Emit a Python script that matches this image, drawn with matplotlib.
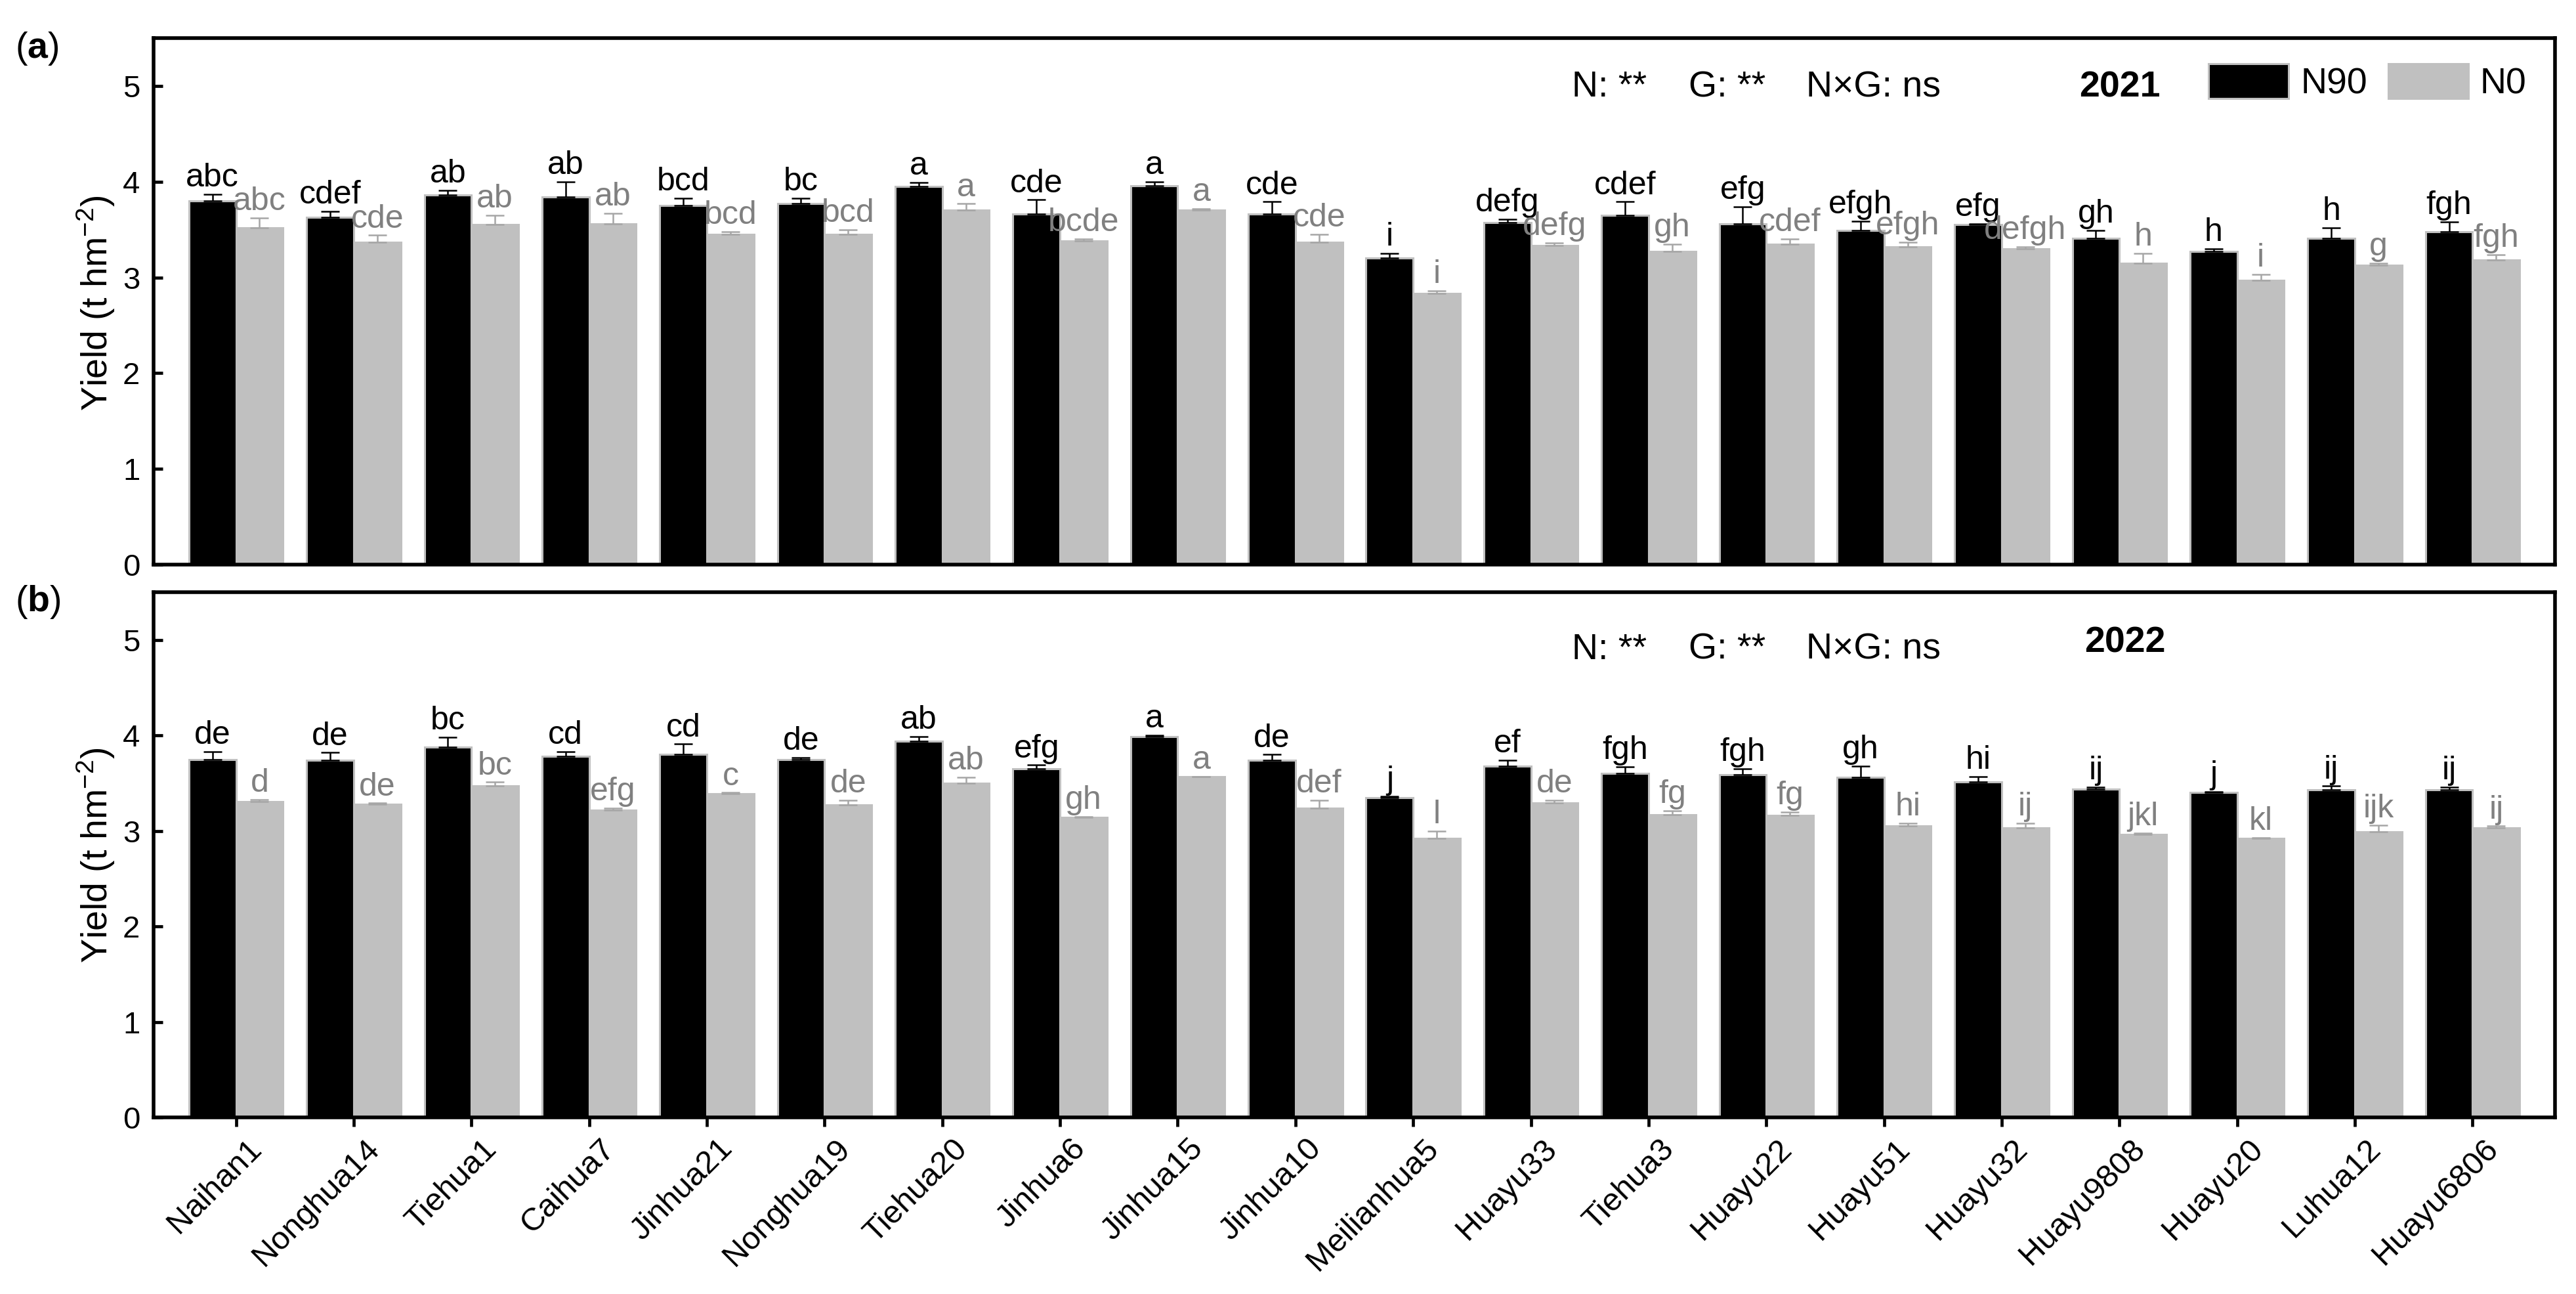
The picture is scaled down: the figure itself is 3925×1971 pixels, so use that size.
import matplotlib
matplotlib.use('Agg')
import matplotlib.pyplot as plt
import numpy as np
from matplotlib.transforms import ScaledTranslation

varieties = ['Naihan1', 'Nonghua14', 'Tiehua1', 'Caihua7', 'Jinhua21', 'Nonghua19',
             'Tiehua20', 'Jinhua6', 'Jinhua15', 'Jinhua10', 'Meilianhua5', 'Huayu33',
             'Tiehua3', 'Huayu22', 'Huayu51', 'Huayu32', 'Huayu9808', 'Huayu20',
             'Luhua12', 'Huayu6806']

# 2021
n90_2021 = [3.80, 3.63, 3.86, 3.84, 3.75, 3.77, 3.95, 3.66, 3.96, 3.66,
            3.20, 3.57, 3.65, 3.56, 3.49, 3.55, 3.41, 3.27, 3.41, 3.48]
e90_2021 = [0.07, 0.06, 0.05, 0.16, 0.08, 0.06, 0.04, 0.15, 0.04, 0.13,
            0.05, 0.04, 0.14, 0.18, 0.10, 0.01, 0.08, 0.03, 0.11, 0.10]
n0_2021 = [3.52, 3.37, 3.55, 3.56, 3.45, 3.45, 3.70, 3.38, 3.70, 3.37,
           2.83, 3.33, 3.27, 3.35, 3.32, 3.30, 3.15, 2.97, 3.13, 3.18]
e0_2021 = [0.10, 0.07, 0.10, 0.11, 0.03, 0.05, 0.07, 0.02, 0.02, 0.08,
           0.03, 0.03, 0.08, 0.05, 0.05, 0.02, 0.10, 0.06, 0.02, 0.06]
l90_2021 = ['abc', 'cdef', 'ab', 'ab', 'bcd', 'bc', 'a', 'cde', 'a', 'cde',
            'i', 'defg', 'cdef', 'efg', 'efgh', 'efg', 'gh', 'h', 'h', 'fgh']
l0_2021 = ['abc', 'cde', 'ab', 'ab', 'bcd', 'bcd', 'a', 'bcde', 'a', 'cde',
           'i', 'defg', 'gh', 'cdef', 'efgh', 'defgh', 'h', 'i', 'g', 'fgh']

# 2022
n90_2022 = [3.75, 3.74, 3.88, 3.78, 3.80, 3.75, 3.94, 3.65, 3.99, 3.74,
            3.35, 3.68, 3.60, 3.59, 3.56, 3.51, 3.44, 3.40, 3.43, 3.43]
e90_2022 = [0.08, 0.08, 0.10, 0.05, 0.11, 0.02, 0.05, 0.04, 0.01, 0.06,
            0.01, 0.06, 0.07, 0.06, 0.12, 0.06, 0.02, 0.01, 0.04, 0.03]
n0_2022 = [3.31, 3.28, 3.47, 3.22, 3.39, 3.27, 3.50, 3.14, 3.57, 3.24,
           2.92, 3.29, 3.17, 3.16, 3.05, 3.03, 2.96, 2.92, 2.99, 3.03]
e0_2022 = [0.02, 0.01, 0.04, 0.02, 0.01, 0.05, 0.06, 0.01, 0.00, 0.08,
           0.08, 0.03, 0.04, 0.04, 0.03, 0.05, 0.02, 0.01, 0.07, 0.02]
l90_2022 = ['de', 'de', 'bc', 'cd', 'cd', 'de', 'ab', 'efg', 'a', 'de',
            'j', 'ef', 'fgh', 'fgh', 'gh', 'hi', 'ij', 'j', 'ij', 'ij']
l0_2022 = ['d', 'de', 'bc', 'efg', 'c', 'de', 'ab', 'gh', 'a', 'def',
           'l', 'de', 'fg', 'fg', 'hi', 'ij', 'jkl', 'kl', 'ijk', 'ij']

yticks = [0, 1, 2, 3, 4, 5]
stats = ['N: **', 'G: **', 'N×G: ns']

plt.rcParams['font.family'] = ['Liberation Sans', 'DejaVu Sans']
plt.rcParams['mathtext.fontset'] = 'custom'
plt.rcParams['mathtext.rm'] = 'Liberation Sans'
plt.rcParams['mathtext.it'] = 'Liberation Sans:italic'
plt.rcParams['mathtext.bf'] = 'Liberation Sans:bold'
plt.rcParams['mathtext.default'] = 'regular'

FW, FH = 3925, 1971
fig = plt.figure(figsize=(FW / 100, FH / 100), dpi=100)
L = 234 / FW
W = 3659 / FW
axA = fig.add_axes([L, 1 - 860 / FH, W, 802 / FH])
axB = fig.add_axes([L, 1 - 1702 / FH, W, 800 / FH])

GRAY = '#c0c0c0'
LETTER_GRAY = '#808080'
ERR_GRAY = '#a6a6a6'


def panel(ax, n90, e90, n0, e0, l90, l0, year, stat_y, year_y, legend, xlabels):
    x = np.arange(len(varieties))
    w = 0.4
    z = np.zeros(len(x))
    ax.bar(x - w / 2, n90, w, color='black', edgecolor=GRAY, linewidth=2.2,
           label='N90', zorder=2)
    ax.bar(x + w / 2, n0, w, color=GRAY, edgecolor=GRAY, linewidth=2.2,
           label='N0', zorder=2)
    ax.errorbar(x - w / 2, n90, yerr=[z, e90], fmt='none', ecolor='black',
                elinewidth=1.8, capsize=10, capthick=1.8, zorder=3)
    ax.errorbar(x + w / 2, n0, yerr=[z, e0], fmt='none', ecolor=ERR_GRAY,
                elinewidth=1.8, capsize=10, capthick=1.8, zorder=3)
    for xi, v, e, t in zip(x - w / 2, n90, e90, l90):
        ax.text(xi, v + e + 0.012, t, ha='center', va='bottom', fontsize=36,
                color='black', zorder=4)
    for xi, v, e, t in zip(x + w / 2, n0, e0, l0):
        ax.text(xi, v + e + 0.012, t, ha='center', va='bottom', fontsize=36,
                color=LETTER_GRAY, zorder=4)

    ax.set_xlim(-0.7, len(x) - 0.3)
    ax.set_ylim(0, 5.5)
    ax.set_yticks(yticks)
    ax.tick_params(axis='y', direction='in', length=10, width=3.4,
                   labelsize=34, pad=15, right=False)
    for s in ax.spines.values():
        s.set_linewidth(4)

    xs = [0.5906, 0.6392, 0.6882]
    for xx, s in zip(xs, stats):
        ax.text(xx, stat_y, s, transform=ax.transAxes, fontsize=40,
                ha='left', va='baseline')
    ax.text(year_y[0], year_y[1], year, transform=ax.transAxes, fontsize=40,
            fontweight='bold', ha='center', va='baseline')

    if legend:
        ax.legend(loc='upper left', bbox_to_anchor=(0.8557, 0.951), ncol=2,
                  frameon=False, fontsize=40, handlelength=2.2,
                  handleheight=1.08, handletextpad=0.32, columnspacing=0.58,
                  borderpad=0, borderaxespad=0)

    if xlabels:
        ax.set_xticks(x)
        ax.set_xticklabels(varieties, rotation=45, ha='right',
                           rotation_mode='anchor')
        ax.tick_params(axis='x', direction='out', length=10, width=3.4,
                       labelsize=35, pad=8)
        off = ScaledTranslation(16 / 100, 0, fig.dpi_scale_trans)
        for lab in ax.get_xticklabels():
            lab.set_transform(lab.get_transform() + off)
    else:
        ax.set_xticks([])


panel(axA, n90_2021, e90_2021, n0_2021, e0_2021, l90_2021, l0_2021, '2021',
      0.889, (0.8188, 0.889), True, False)
panel(axB, n90_2022, e90_2022, n0_2022, e0_2022, l90_2022, l0_2022, '2022',
      0.8725, (0.8210, 0.885), False, True)

ylab = r'Yield (t hm$^{-2}$)'
fig.text(146 / FW, 1 - 462 / FH, ylab, rotation=90, ha='center', va='center',
         fontsize=40)
fig.text(146 / FW, 1 - 1303 / FH, ylab, rotation=90, ha='center', va='center',
         fontsize=40)

fig.text(23 / FW, 1 - 74 / FH, r'($\mathbf{a}$)', ha='left', va='center',
         fontsize=40)
fig.text(23 / FW, 1 - 917 / FH, r'($\mathbf{b}$)', ha='left', va='center',
         fontsize=40)

fig.savefig('out.png', dpi=100)
